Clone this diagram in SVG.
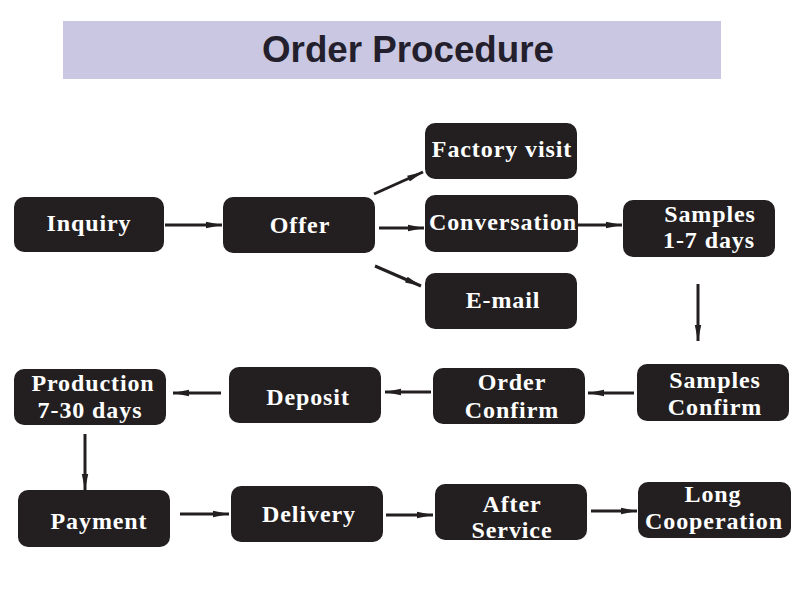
<svg xmlns="http://www.w3.org/2000/svg" width="799" height="595" viewBox="0 0 799 595">
<style>
.box{fill:#231f20}
.t{font-family:"Liberation Serif","Times New Roman",serif;font-weight:bold;font-size:24px;fill:#fff;text-anchor:middle;letter-spacing:0.9px}
.c{stroke:#231f20;stroke-width:3;fill:none;marker-end:url(#ah)}
</style>
<defs>
<marker id="ah" markerUnits="userSpaceOnUse" markerWidth="18" markerHeight="8" refX="16" refY="4" orient="auto">
<path d="M0,0.8 L16,4 L0,7.2 Z" fill="#231f20"/>
</marker>
</defs>
<rect width="799" height="595" fill="#fff"/>
<g id="title">
<rect x="63" y="21" width="658" height="58" fill="#c9c7e2"/>
<text x="408" y="62" font-family="'Liberation Sans',Arial,sans-serif" font-weight="bold" font-size="37" fill="#231f2c" text-anchor="middle" textLength="292" lengthAdjust="spacingAndGlyphs">Order Procedure</text>
</g>
<g id="connectors">
<line class="c" x1="165" y1="225" x2="222" y2="225"/>
<line class="c" x1="374" y1="194" x2="423" y2="172"/>
<line class="c" x1="379" y1="228" x2="424" y2="228"/>
<line class="c" x1="375" y1="266" x2="421" y2="286"/>
<line class="c" x1="578" y1="225" x2="622" y2="225"/>
<line class="c" x1="698" y1="284" x2="698" y2="341"/>
<line class="c" x1="634" y1="393" x2="588" y2="393"/>
<line class="c" x1="431" y1="392" x2="385" y2="392"/>
<line class="c" x1="221" y1="393" x2="173" y2="393"/>
<line class="c" x1="85" y1="434" x2="85" y2="490"/>
<line class="c" x1="180" y1="514" x2="229" y2="514"/>
<line class="c" x1="386" y1="515" x2="433" y2="515"/>
<line class="c" x1="591" y1="511" x2="637" y2="511"/>
</g>
<g id="inquiry"><rect class="box" x="14" y="197" width="150" height="55" rx="10"/><text class="t" x="89" y="231">Inquiry</text></g>
<g id="offer"><rect class="box" x="223" y="197" width="152" height="56" rx="10"/><text class="t" x="300" y="233">Offer</text></g>
<g id="factory"><rect class="box" x="425" y="123" width="152" height="56" rx="10"/><text class="t" x="502" y="157">Factory visit</text></g>
<g id="conversation"><rect class="box" x="425" y="195" width="153" height="57" rx="10"/><text class="t" x="503" y="230">Conversation</text></g>
<g id="email"><rect class="box" x="425" y="273" width="152" height="56" rx="10"/><text class="t" x="503" y="308">E-mail</text></g>
<g id="samples"><rect class="box" x="623" y="200" width="152" height="57" rx="10"/><text class="t" x="710" y="222">Samples</text><text class="t" x="709" y="248">1-7 days</text></g>
<g id="samples-confirm"><rect class="box" x="637" y="364" width="152" height="57" rx="10"/><text class="t" x="715" y="388">Samples</text><text class="t" x="715" y="415">Confirm</text></g>
<g id="order-confirm"><rect class="box" x="433" y="368" width="152" height="56" rx="10"/><text class="t" x="512" y="390">Order</text><text class="t" x="512" y="418">Confirm</text></g>
<g id="deposit"><rect class="box" x="229" y="367" width="152" height="56" rx="10"/><text class="t" x="308" y="405">Deposit</text></g>
<g id="production"><rect class="box" x="14" y="369" width="152" height="56" rx="10"/><text class="t" x="93" y="391">Production</text><text class="t" x="90" y="418">7-30 days</text></g>
<g id="payment"><rect class="box" x="18" y="490" width="152" height="57" rx="10"/><text class="t" x="99" y="529">Payment</text></g>
<g id="delivery"><rect class="box" x="231" y="486" width="152" height="56" rx="10"/><text class="t" x="309" y="522">Delivery</text></g>
<g id="after-service"><rect class="box" x="435" y="484" width="152" height="56" rx="10"/><text class="t" x="512" y="512">After</text><text class="t" x="512" y="538">Service</text></g>
<g id="long-cooperation"><rect class="box" x="638" y="482" width="153" height="56" rx="10"/><text class="t" x="713" y="502">Long</text><text class="t" x="714" y="529">Cooperation</text></g>
</svg>
